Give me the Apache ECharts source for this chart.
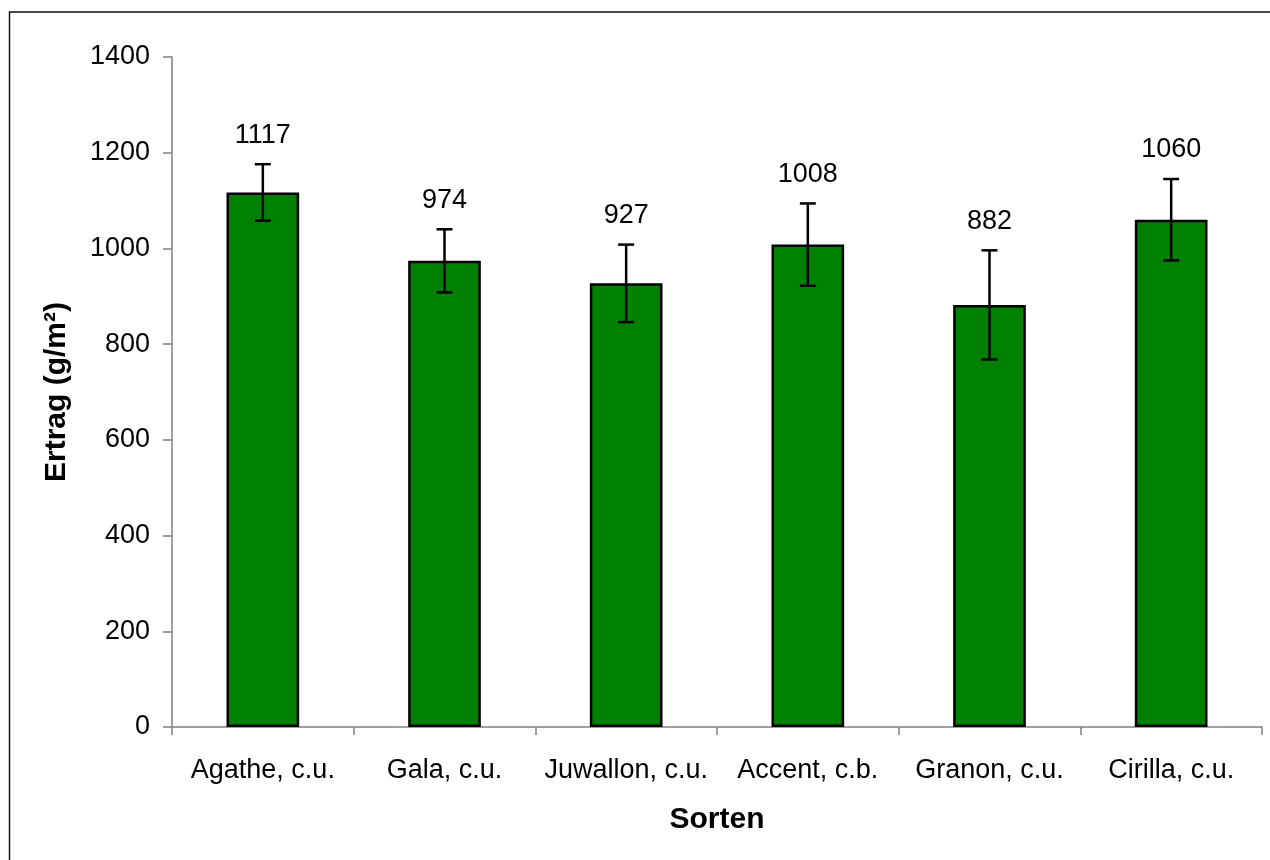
<!DOCTYPE html>
<html>
<head>
<meta charset="utf-8">
<script src="https://cdn.jsdelivr.net/npm/echarts@6/dist/echarts.min.js"></script>
<style>
html,body{margin:0;padding:0;background:#fff;}
#chart{width:1270px;height:860px;}
</style>
</head>
<body>
<div id="chart"></div>
<script>
const categories = ['Agathe, c.u.', 'Gala, c.u.', 'Juwallon, c.u.', 'Accent, c.b.', 'Granon, c.u.', 'Cirilla, c.u.'];
const yields = [1117, 974, 927, 1008, 882, 1060];
const errors = [59, 66, 81, 86, 114, 85];
const yTicks = {min: 0, max: 1400, interval: 200};

const FONT = '"Liberation Sans", Arial, sans-serif';
const chart = echarts.init(document.getElementById('chart'));

const errData = yields.map((v, i) => [i, v, errors[i]]);

function renderErr(params, api) {
  const x = api.value(0), v = api.value(1), e = api.value(2);
  const hi = api.coord([x, v + e]);
  const lo = api.coord([x, v - e]);
  const half = 8;
  const st = {stroke: '#000', lineWidth: 2.5};
  return {
    type: 'group',
    children: [
      {type: 'line', shape: {x1: hi[0], y1: hi[1], x2: lo[0], y2: lo[1]}, style: st},
      {type: 'line', shape: {x1: hi[0] - half, y1: hi[1], x2: hi[0] + half, y2: hi[1]}, style: st},
      {type: 'line', shape: {x1: lo[0] - half, y1: lo[1], x2: lo[0] + half, y2: lo[1]}, style: st},
      {type: 'text', style: {text: String(v), x: hi[0], y: hi[1] - 29, align: 'center', verticalAlign: 'middle',
        fontSize: 27, fontFamily: FONT, fill: '#000'}}
    ]
  };
}

chart.setOption({
  animation: false,
  backgroundColor: '#fff',
  graphic: [{
    type: 'rect', shape: {x: 9.5, y: 12, width: 1400, height: 1000},
    style: {fill: 'none', stroke: '#111', lineWidth: 1.5}, z: -10
  }],
  grid: {left: 172, right: 8, top: 57, bottom: 133},
  xAxis: {
    type: 'category',
    data: categories,
    name: 'Sorten',
    nameLocation: 'middle',
    nameGap: 78,
    nameTextStyle: {fontSize: 30, fontWeight: 'bold', fontFamily: FONT, color: '#000'},
    axisLine: {lineStyle: {color: '#808080', width: 1.5}},
    axisTick: {show: true, alignWithLabel: false, length: 8, lineStyle: {color: '#808080', width: 1.5}},
    axisLabel: {fontSize: 27, fontFamily: FONT, color: '#000', margin: 30, interval: 0},
    splitLine: {show: false}
  },
  yAxis: {
    type: 'value',
    min: yTicks.min, max: yTicks.max, interval: yTicks.interval,
    name: 'Ertrag (g/m²)',
    nameLocation: 'middle',
    nameGap: 100,
    nameRotate: 90,
    nameTextStyle: {fontSize: 30, fontWeight: 'bold', fontFamily: FONT, color: '#000'},
    axisLine: {show: true, lineStyle: {color: '#808080', width: 1.5}},
    axisTick: {show: true, length: 9, lineStyle: {color: '#808080', width: 1.5}},
    axisLabel: {fontSize: 27, fontFamily: FONT, color: '#000', margin: 22, formatter: v => String(v)},
    splitLine: {show: false}
  },
  series: [
    {
      type: 'bar',
      data: yields,
      barWidth: '40%',
      itemStyle: {color: '#008000', borderColor: '#000', borderWidth: 2.5},
      z: 2
    },
    {
      type: 'custom',
      data: errData,
      encode: {x: 0, y: 1},
      renderItem: renderErr,
      z: 5
    }
  ]
});
</script>
</body>
</html>
